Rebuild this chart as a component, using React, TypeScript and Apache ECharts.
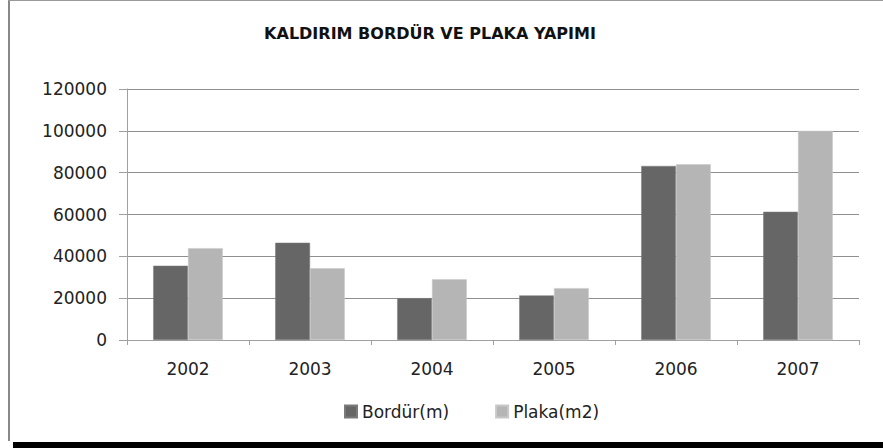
import React, { useEffect, useRef } from "react";
import * as echarts from "echarts";

const years = ["2002", "2003", "2004", "2005", "2006", "2007"];
const bordur = [35500, 46500, 20000, 21300, 83200, 61300];
const plaka = [43900, 34300, 29000, 24800, 84000, 100000];
const seriesNames = ["Bordür(m)", "Plaka(m2)"];
const titleText = "KALDIRIM BORDÜR VE PLAKA YAPIMI";

export default function App() {
  const ref = useRef<HTMLDivElement>(null);
  useEffect(() => {
    if (!ref.current) return;
    const chart = echarts.init(ref.current, null, { renderer: "svg" });
    const font = "DejaVu Sans";
    chart.setOption({
      animation: false,
      backgroundColor: "#ffffff",
      title: {
        text: titleText,
        left: 425,
        textAlign: "center",
        top: 20,
        textStyle: { fontFamily: font, fontWeight: "bold", fontSize: 16, color: "#111111" },
      },
      legend: {
        left: 339,
        top: 398,
        itemWidth: 12,
        itemHeight: 12,
        itemGap: 46,
        icon: "rect",
        textStyle: { fontFamily: font, fontSize: 17, color: "#222222" },
        data: seriesNames,
      },
      grid: { left: 127, right: 24, top: 89, bottom: 108, containLabel: false },
      xAxis: {
        type: "category",
        data: years,
        axisLine: { lineStyle: { color: "#a0a0a0", width: 1 } },
        axisTick: { show: true, length: 5, lineStyle: { color: "#a0a0a0" } },
        axisLabel: { fontFamily: font, fontSize: 17, color: "#222222", margin: 20 },
      },
      yAxis: {
        type: "value",
        min: 0,
        max: 120000,
        interval: 20000,
        axisLine: { show: true, lineStyle: { color: "#a0a0a0", width: 1 } },
        axisTick: { show: true, length: 8, lineStyle: { color: "#a0a0a0" } },
        axisLabel: {
          fontFamily: font,
          fontSize: 17,
          color: "#222222",
          margin: 20,
          formatter: (v: number) => String(v),
        },
        splitLine: { lineStyle: { color: "#8f8f8f", width: 1 } },
      },
      series: [
        {
          name: seriesNames[0],
          type: "bar",
          data: bordur,
          barGap: "0%",
          barCategoryGap: "43%",
          itemStyle: { color: "#666666", borderColor: "#7a7a7a", borderWidth: 0.5 },
        },
        {
          name: seriesNames[1],
          type: "bar",
          data: plaka,
          barGap: "0%",
          barCategoryGap: "43%",
          itemStyle: { color: "#b5b5b5", borderColor: "#c8c8c8", borderWidth: 0.5 },
        },
      ],
      graphic: [
        { type: "line", shape: { x1: 9, y1: 0, x2: 9, y2: 441 }, style: { stroke: "#888888", lineWidth: 2 } },
        { type: "line", shape: { x1: 8, y1: 0.5, x2: 883, y2: 0.5 }, style: { stroke: "#999999", lineWidth: 1 } },
        { type: "rect", shape: { x: 13, y: 442, width: 870, height: 6 }, style: { fill: "#000000" } },
      ],
    });
    return () => chart.dispose();
  }, []);
  return (
    <div
      ref={ref}
      style={{ position: "absolute", left: 0, top: 0, width: 883, height: 448 }}
    />
  );
}
